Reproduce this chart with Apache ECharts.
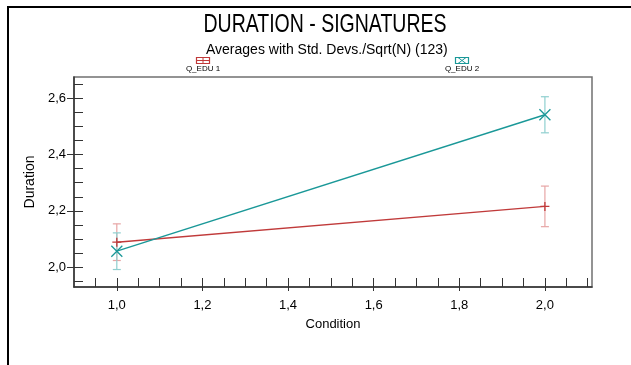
<!DOCTYPE html>
<html>
<head>
<meta charset="utf-8">
<script src="https://cdn.jsdelivr.net/npm/echarts@6/dist/echarts.min.js"></script>
<style>
  html, body { margin: 0; padding: 0; background: #fff; }
  #chart { width: 631px; height: 365px; }
</style>
</head>
<body>
<div id="chart"></div>
<script>
// data
const conditions = [1, 2];
const edu1Mean = [2.089, 2.216];
const edu1Err = [0.065, 0.072];
const edu2Mean = [2.057, 2.541];
const edu2Err = [0.065, 0.064];
const xMajorTicks = [1.0, 1.2, 1.4, 1.6, 1.8, 2.0];
const xMinorTicks = [0.95, 1.0, 1.05, 1.1, 1.15, 1.2, 1.25, 1.3, 1.35, 1.4, 1.45, 1.5, 1.55, 1.6, 1.65, 1.7, 1.75, 1.8, 1.85, 1.9, 1.95, 2.0, 2.05, 2.1];
const yMajorTicks = [2.0, 2.2, 2.4, 2.6];
const yMinorTicks = [1.95, 2.0, 2.05, 2.1, 2.15, 2.2, 2.25, 2.3, 2.35, 2.4, 2.45, 2.5, 2.55, 2.6, 2.65];

const RED = "#c03a3a";
const TEAL = "#1a9898";
const RED_ERR = "#e7a5a5";
const TEAL_ERR = "#8fcfcf";

const fmt = (v) => v.toFixed(1).replace(".", ",");
const pts = (means) => conditions.map((c, i) => [c, means[i]]);
const errs = (means, e) => conditions.map((c, i) => [c, means[i] - e[i], means[i] + e[i]]);

function errorBar(color) {
  return function (params, api) {
    const x = api.value(0);
    const lo = api.coord([x, api.value(1)]);
    const hi = api.coord([x, api.value(2)]);
    const w = 4;
    const style = { stroke: color, lineWidth: 1.2 };
    return {
      type: "group",
      children: [
        { type: "line", shape: { x1: lo[0], y1: lo[1], x2: hi[0], y2: hi[1] }, style: style },
        { type: "line", shape: { x1: lo[0] - w, y1: lo[1], x2: lo[0] + w, y2: lo[1] }, style: style },
        { type: "line", shape: { x1: hi[0] - w, y1: hi[1], x2: hi[0] + w, y2: hi[1] }, style: style },
      ],
    };
  };
}

const axisFont = { color: "#000", fontSize: 13, fontFamily: "Liberation Sans, Arial, sans-serif" };
const X_MIN = 0.9, X_MAX = 2.11, Y_MIN = 1.93, Y_MAX = 2.675;

const chart = echarts.init(document.getElementById("chart"));
chart.setOption({
  backgroundColor: "#fff",
  animation: false,
  title: [
    {
      text: "Averages with Std. Devs./Sqrt(N) (123)",
      left: 201,
      top: 38,
      textStyle: { fontFamily: "Liberation Sans, sans-serif", fontSize: 14, fontWeight: "normal", color: "#000" },
    },
  ],
  grid: {
    left: 74, right: 39, top: 77, bottom: 78,
    show: true, borderColor: "#707070", borderWidth: 1.5, backgroundColor: "transparent",
  },
  xAxis: [
    {
      type: "value", min: X_MIN, max: X_MAX,
      axisLine: { show: true, lineStyle: { color: "#333", width: 1.5 } },
      axisTick: { show: true, inside: true, length: 9, customValues: xMinorTicks, lineStyle: { color: "#333" } },
      axisLabel: { show: false },
      splitLine: { show: false },
    },
    {
      type: "value", min: X_MIN, max: X_MAX, position: "bottom",
      axisLine: { show: false },
      axisTick: { show: true, inside: false, length: 4, customValues: xMajorTicks, lineStyle: { color: "#333" } },
      axisLabel: { show: true, customValues: xMajorTicks, formatter: fmt, margin: 12, ...axisFont },
      splitLine: { show: false },
      name: "Condition", nameLocation: "middle", nameGap: 31,
      nameTextStyle: axisFont,
    },
  ],
  yAxis: [
    {
      type: "value", min: Y_MIN, max: Y_MAX,
      axisLine: { show: true, lineStyle: { color: "#333", width: 1.5 } },
      axisTick: { show: true, inside: true, length: 9, customValues: yMinorTicks, lineStyle: { color: "#333" } },
      axisLabel: { show: false },
      splitLine: { show: false },
    },
    {
      type: "value", min: Y_MIN, max: Y_MAX, position: "left",
      axisLine: { show: false },
      axisTick: { show: true, inside: false, length: 7, customValues: yMajorTicks, lineStyle: { color: "#333" } },
      axisLabel: { show: true, customValues: yMajorTicks, formatter: fmt, margin: 8, ...axisFont },
      splitLine: { show: false },
      name: "Duration", nameLocation: "middle", nameGap: 37, nameRotate: 90,
      nameTextStyle: { ...axisFont, fontSize: 14 },
    },
  ],
  series: [
    {
      type: "custom", name: "err1", renderItem: errorBar(RED_ERR),
      data: errs(edu1Mean, edu1Err), encode: { x: 0, y: [1, 2] }, z: 1, silent: true,
    },
    {
      type: "custom", name: "err2", renderItem: errorBar(TEAL_ERR),
      data: errs(edu2Mean, edu2Err), encode: { x: 0, y: [1, 2] }, z: 1, silent: true,
    },
    {
      type: "line", name: "Q_EDU 1", data: pts(edu1Mean), z: 3,
      lineStyle: { color: RED, width: 1.4 },
      symbol: "path://M0,5L10,5M5,0L5,10", symbolSize: 9,
      itemStyle: { color: "none", borderColor: RED, borderWidth: 1.3 },
    },
    {
      type: "line", name: "Q_EDU 2", data: pts(edu2Mean), z: 3,
      lineStyle: { color: TEAL, width: 1.4 },
      symbol: "path://M0,0L10,10M10,0L0,10", symbolSize: 11,
      itemStyle: { color: "none", borderColor: TEAL, borderWidth: 1.3 },
    },
  ],
  graphic: [
    // condensed main title
    {
      type: "text", x: 325, y: 12, scaleX: 0.75,
      style: { text: "DURATION - SIGNATURES", fontSize: 26, fontFamily: "Liberation Sans, sans-serif", fill: "#000", align: "center" },
    },
    // outer frame
    { type: "line", shape: { x1: 7, y1: 7, x2: 631, y2: 7 }, style: { stroke: "#000", lineWidth: 2 } },
    { type: "line", shape: { x1: 8, y1: 7, x2: 8, y2: 365 }, style: { stroke: "#000", lineWidth: 2 } },
    // legend Q_EDU 1
    { type: "rect", shape: { x: 196.5, y: 57.5, width: 13, height: 6 }, style: { fill: "none", stroke: RED, lineWidth: 1.2 } },
    { type: "line", shape: { x1: 196.5, y1: 60.5, x2: 209.5, y2: 60.5 }, style: { stroke: RED, lineWidth: 1 } },
    { type: "line", shape: { x1: 203, y1: 57.5, x2: 203, y2: 63.5 }, style: { stroke: RED, lineWidth: 1 } },
    { type: "text", x: 203, y: 65, style: { text: "Q_EDU 1", fontSize: 8, fontFamily: "Liberation Sans, sans-serif", fill: "#000", align: "center" } },
    // legend Q_EDU 2
    { type: "rect", shape: { x: 455.5, y: 57.5, width: 13, height: 6 }, style: { fill: "none", stroke: TEAL, lineWidth: 1.2 } },
    { type: "line", shape: { x1: 458, y1: 57.5, x2: 466, y2: 63.5 }, style: { stroke: TEAL, lineWidth: 1 } },
    { type: "line", shape: { x1: 466, y1: 57.5, x2: 458, y2: 63.5 }, style: { stroke: TEAL, lineWidth: 1 } },
    { type: "text", x: 462, y: 65, style: { text: "Q_EDU 2", fontSize: 8, fontFamily: "Liberation Sans, sans-serif", fill: "#000", align: "center" } },
  ],
});
window.addEventListener("resize", chart.resize);
</script>
</body>
</html>
